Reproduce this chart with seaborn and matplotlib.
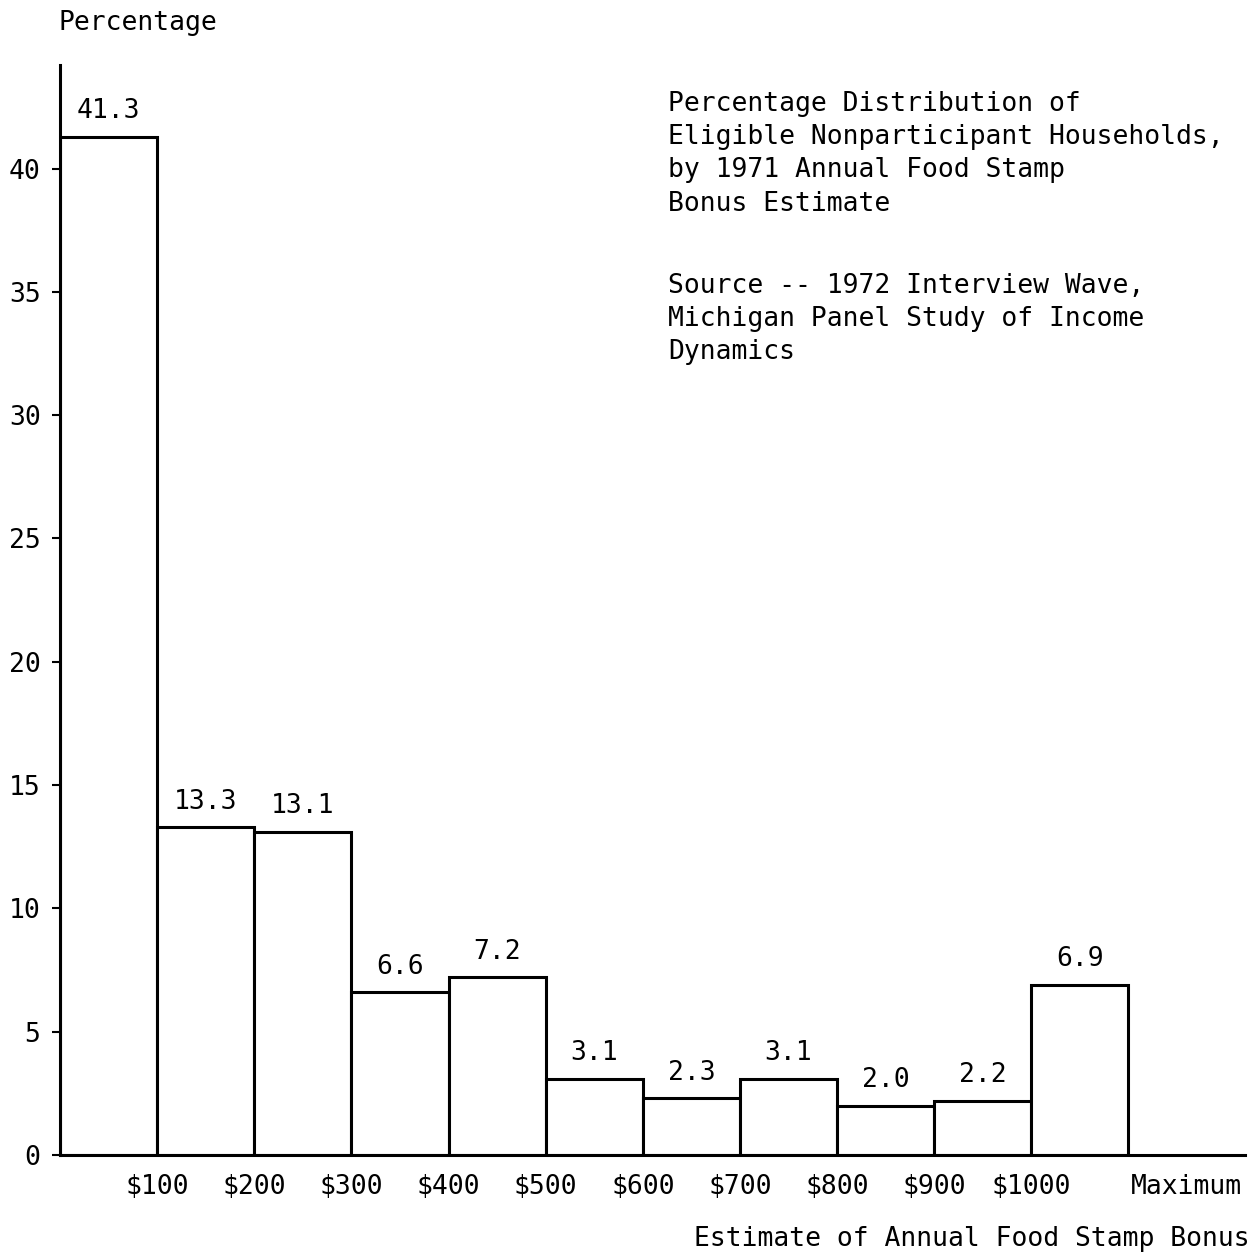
import numpy as np
import pandas as pd
import matplotlib
matplotlib.use("Agg")
import matplotlib.pyplot as plt
import seaborn as sns

# bonus brackets (one bar each) and the share of households in each
brackets = ["$0-100", "$100-200", "$200-300", "$300-400", "$400-500", "$500-600",
            "$600-700", "$700-800", "$800-900", "$900-1000", "$1000-Max"]
percentages = [41.3, 13.3, 13.1, 6.6, 7.2, 3.1, 2.3, 3.1, 2.0, 2.2, 6.9]
value_labels = ["41.3", "13.3", "13.1", "6.6", "7.2", "3.1", "2.3", "3.1", "2.0", "2.2", "6.9"]
edge_labels = ["$100", "$200", "$300", "$400", "$500", "$600", "$700", "$800", "$900", "$1000", "Maximum"]
y_ticks = [0, 5, 10, 15, 20, 25, 30, 35, 40]

title_text = ("Percentage Distribution of\n"
              "Eligible Nonparticipant Households,\n"
              "by 1971 Annual Food Stamp\n"
              "Bonus Estimate")
source_text = ("Source -- 1972 Interview Wave,\n"
               "Michigan Panel Study of Income\n"
               "Dynamics")

sns.set_style("ticks")
plt.rcParams["font.family"] = ["DejaVu Sans Mono"]
for k in ["text.color", "axes.labelcolor", "xtick.color", "ytick.color"]:
    plt.rcParams[k] = "black"
FS = 19

W, H = 1260, 1253
fig = plt.figure(figsize=(W / 100, H / 100), dpi=100)
ax = fig.add_axes([60 / W, 1 - 1155 / H, 1185 / W, (1155 - 65) / H])

df = pd.DataFrame({"bracket": brackets, "pct": percentages})
sns.barplot(data=df, x="bracket", y="pct", width=1.0, fill=False, color="black",
            linewidth=2.2, errorbar=None, ax=ax)
for p in ax.patches:
    p.set_edgecolor("black")
    p.set_facecolor("white")

ax.bar_label(ax.containers[0], labels=value_labels, padding=9, fontsize=FS)

# tick labels sit on the bar edges; "Maximum" is past the last bar
edge_pos = [i + 0.5 for i in range(10)] + [11.1]
ax.set_xticks(edge_pos)
ax.set_xticklabels(edge_labels, fontsize=FS)
ax.tick_params(axis="x", length=0, pad=14)
ax.set_yticks(y_ticks)
ax.set_yticklabels([str(v) for v in y_ticks], fontsize=FS)
ax.tick_params(axis="y", length=6, width=1.5, pad=8, direction="out")

ax.set_xlim(-0.5, 11.7)
ax.set_ylim(0, 44.2)
ax.set_xlabel("")
ax.set_ylabel("")
sns.despine(ax=ax)
for s in ["left", "bottom"]:
    ax.spines[s].set_linewidth(2.2)
    ax.spines[s].set_color("black")

fig.text(58 / W, 1 - 23 / H, "Percentage", fontsize=FS, ha="left", va="center")
fig.text(1250 / W, 1 - 1239 / H, "Estimate of Annual Food Stamp Bonus", fontsize=FS,
         ha="right", va="center")
fig.text(668 / W, 1 - 91 / H, title_text, fontsize=FS, ha="left", va="top", linespacing=1.36)
fig.text(668 / W, 1 - 273 / H, source_text, fontsize=FS, ha="left", va="top", linespacing=1.36)

fig.savefig("out.png", dpi=100, facecolor="white")
